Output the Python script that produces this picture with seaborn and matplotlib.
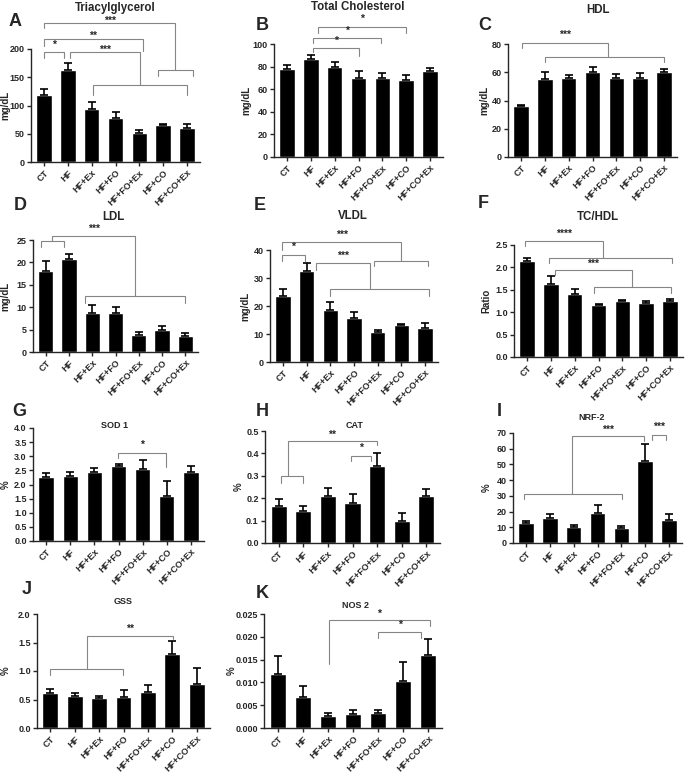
import matplotlib
matplotlib.use('Agg')
import matplotlib.pyplot as plt
import seaborn as sns
import numpy as np
import pandas as pd

sns.set_style('ticks')
plt.rcParams['font.family'] = ['Liberation Sans', 'DejaVu Sans']
plt.rcParams['font.weight'] = 'bold'

W, H = 685, 774

# Grupos
groups = ['CT', 'HF', 'HF+Ex', 'HF+FO', 'HF+FO+Ex', 'HF+CO', 'HF+CO+Ex']

# Médias e erro padrão
tg_mean = [118, 162, 93, 78, 52, 66, 60]
tg_sem = [12, 14, 14, 10, 4, 2, 8]
tc_mean = [78, 87, 80, 70, 70, 68, 76]
tc_sem = [3, 3, 4, 6, 4, 5, 3]
hdl_mean = [36, 55, 56, 60, 56, 56, 60]
hdl_sem = [1, 5, 2, 4, 3, 3.5, 2.5]
ldl_mean = [18.1, 20.7, 8.8, 8.8, 3.8, 5.0, 3.6]
ldl_sem = [2.3, 1.2, 1.8, 1.2, 0.65, 0.7, 0.6]
vldl_mean = [23.6, 32.5, 18.4, 15.7, 10.6, 13.2, 12.1]
vldl_sem = [2.5, 2.9, 3.0, 2.0, 0.7, 0.4, 1.8]
ratio_mean = [2.15, 1.62, 1.41, 1.16, 1.25, 1.21, 1.26]
ratio_sem = [0.07, 0.18, 0.10, 0.03, 0.03, 0.03, 0.03]
sod_mean = [2.28, 2.30, 2.44, 2.67, 2.55, 1.60, 2.46]
sod_sem = [0.12, 0.13, 0.14, 0.07, 0.31, 0.52, 0.19]
cat_mean = [0.163, 0.144, 0.212, 0.178, 0.344, 0.100, 0.212]
cat_sem = [0.034, 0.022, 0.033, 0.042, 0.060, 0.032, 0.031]
nrf_mean = [12.7, 16.1, 10.0, 19.1, 9.8, 52.0, 14.4]
nrf_sem = [1.3, 2.4, 1.5, 5.3, 1.0, 11.2, 4.3]
gss_mean = [0.62, 0.56, 0.52, 0.55, 0.63, 1.30, 0.78]
gss_sem = [0.06, 0.06, 0.05, 0.11, 0.13, 0.22, 0.28]
nos_mean = [0.0118, 0.0067, 0.0027, 0.0031, 0.0033, 0.0103, 0.0160]
nos_sem = [0.0040, 0.0025, 0.0005, 0.0009, 0.0006, 0.0041, 0.0036]


def bracket(ax, x1, y1, x2, y2, top, text=None, ty=None):
    ax.plot([x1, x1, x2, x2], [y1, top, top, y2], color='#858585', lw=0.8,
            clip_on=False, solid_joinstyle='miter')
    if text:
        ax.text((x1 + x2) / 2, ty, text, ha='center', va='center', fontsize=7.5,
                fontweight='bold', clip_on=False)


# letra, título, ylabel, dados, ymax, passo, formato, caixa (px), pos título, pos letra, fonte título, x do ylabel (px)
panels = [
    ('A', 'Triacylglycerol', 'mg/dL', tg_mean, tg_sem, 200, 50, '{:.0f}', (31, 49, 200, 162), (115, 8), (15, 22), 8.3, 6),
    ('B', 'Total Cholesterol', 'mg/dL', tc_mean, tc_sem, 100, 20, '{:.0f}', (274, 44, 443, 157), (358, 7), (262, 25), 8.3, 247),
    ('C', 'HDL', 'mg/dL', hdl_mean, hdl_sem, 80, 20, '{:.0f}', (508, 44, 677, 157), (598, 10), (485, 25), 8.3, 485),
    ('D', 'LDL', 'mg/dL', ldl_mean, ldl_sem, 25, 5, '{:.0f}', (33, 240, 198, 352), (113, 217), (20, 205), 8.3, 6),
    ('E', 'VLDL', 'mg/dL', vldl_mean, vldl_sem, 40, 10, '{:.0f}', (270, 250, 438, 362), (353, 216), (260, 205), 8.3, 246),
    ('F', 'TC/HDL', 'Ratio', ratio_mean, ratio_sem, 2.5, 0.5, '{:.1f}', (514, 245, 683, 357), (598, 217), (483, 203), 8.3, 487),
    ('G', 'SOD 1', '%', sod_mean, sod_sem, 4, 0.5, '{:.1f}', (33, 428, 204, 541), (115, 425), (19, 412), 6.5, 7),
    ('H', 'CAT', '%', cat_mean, cat_sem, 0.5, 0.1, '{:.1f}', (265, 431, 440, 543), (355, 425), (262, 412), 6.5, 240),
    ('I', 'NRF-2', '%', nrf_mean, nrf_sem, 70, 10, '{:.0f}', (513, 433, 682, 543), (592, 418), (499, 411), 6.5, 488),
    ('J', 'GSS', '%', gss_mean, gss_sem, 2, 0.5, '{:.1f}', (37, 614, 210, 728), (123, 602), (27, 590), 6.5, 7),
    ('K', 'NOS 2', '%', nos_mean, nos_sem, 0.025, 0.005, '{:.3f}', (264, 614, 442, 728), (356, 605), (262, 594), 6.5, 233),
]

# Colchetes de significância (x1, y1, x2, y2, topo, texto, y do texto)
brackets = {
    'A': [(0, 184, 0.84, 184, 194, '*', 208),
          (0, 205, 4.15, 196, 218, '**', 224),
          (1.1, 184, 4.04, 136, 194, '***', 199),
          (2.05, 119, 6.0, 119, 136, None, None),
          (0, 237, 5.5, 163, 246, '***', 249),
          (4.8, 152, 6.25, 152, 163, None, None)],
    'B': [(1.07, 92.6, 3.0, 89.6, 96.4, '*', 103),
          (1.07, 101, 3.96, 101, 105, '*', 112),
          (1.29, 110, 5.0, 110, 115, '*', 122)],
    'C': [(0.03, 77, 3.64, 70.8, 80.7, '***', 86.6),
          (1.01, 67, 6.0, 67, 70.8, None, None)],
    'D': [(-0.2, 23.4, 0.77, 23.4, 24.8, None, None),
          (0.28, 24.8, 3.84, 12.4, 26.0, '***', 27.4),
          (1.67, 10.9, 6.01, 10.9, 12.4, None, None)],
    'E': [(-0.04, 36.2, 0.92, 36.2, 38.1, '*', 41),
          (-0.04, 40, 4.99, 36.2, 43, '***', 45.3),
          (3.86, 34.3, 6.12, 34.3, 36.2, None, None),
          (1.38, 32.9, 3.68, 26.0, 35.5, '***', 38),
          (2.0, 23.6, 6.17, 23.6, 26.0, None, None)],
    'F': [(-0.07, 2.48, 3.2, 2.2, 2.59, '****', 2.74),
          (0.92, 2.09, 6.07, 2.09, 2.2, None, None),
          (1.17, 1.83, 4.41, 1.56, 1.94, '***', 2.08),
          (2.79, 1.42, 6.06, 1.42, 1.56, None, None)],
    'G': [(2.99, 2.93, 4.97, 2.63, 3.13, '*', 3.4)],
    'H': [(0.1, 0.27, 1.01, 0.27, 0.30, None, None),
          (0.37, 0.30, 4.0, 0.438, 0.456, '**', 0.485),
          (2.95, 0.366, 3.77, 0.366, 0.39, '*', 0.423)],
    'I': [(-0.1, 27.8, 4.03, 27.8, 31.4, None, None),
          (1.94, 31.4, 4.97, 64.9, 67.9, '***', 72),
          (5.3, 65.8, 5.89, 65.8, 68.9, '***', 73.8)],
    'J': [(0, 0.93, 2.99, 0.93, 1.03, None, None),
          (1.51, 1.03, 5.02, 1.56, 1.62, '**', 1.74)],
    'K': [(2.03, 0.0140, 6.07, 0.0224, 0.0236, '*', 0.0251),
          (4.01, 0.0198, 5.73, 0.0198, 0.021, '*', 0.0226)],
}

fig = plt.figure(figsize=(W / 100, H / 100), dpi=100)

for letra, titulo, ylab, media, sem, ymax, passo, fmt, box, tpos, lpos, tsize, ylx in panels:
    x0, y0, x1, y1 = box
    ax = fig.add_axes([x0 / W, 1 - y1 / H, (x1 - x0) / W, (y1 - y0) / H])
    df = pd.DataFrame({'grupo': groups, 'valor': media})
    sns.barplot(data=df, x='grupo', y='valor', color='black', saturation=1,
                width=0.65, errorbar=None, ax=ax)
    pos = np.arange(len(groups))
    ax.errorbar(pos, media, yerr=[np.zeros(len(sem)), sem], fmt='none',
                ecolor='black', elinewidth=1.2, capsize=3.2, capthick=1.2)
    for b in brackets.get(letra, []):
        bracket(ax, *b)
    ax.set_xlim(-0.55, 6.55)
    ax.set_ylim(0, ymax)
    ticks = np.arange(0, ymax + passo / 2, passo)
    ax.set_yticks(ticks)
    ax.set_yticklabels([fmt.format(t) for t in ticks])
    ax.set_xticks(pos)
    ax.set_xticklabels(groups, rotation=45, ha='right', rotation_mode='anchor')
    ax.set_xlabel('')
    ax.set_ylabel(ylab, fontsize=7, fontweight='bold')
    ax.yaxis.set_label_coords((ylx + 4 - x0) / (x1 - x0), 0.5)
    ax.tick_params(axis='both', length=3, width=1, labelsize=6.5, pad=1.5)
    for s in ['left', 'bottom']:
        ax.spines[s].set_linewidth(1)
    sns.despine(ax=ax)
    fig.text(tpos[0] / W, 1 - tpos[1] / H, titulo, ha='center', va='center',
             fontsize=tsize, fontweight='bold')
    fig.text(lpos[0] / W, 1 - lpos[1] / H, letra, ha='center', va='center',
             fontsize=13, fontweight='bold')

fig.savefig('out.png', dpi=100)
